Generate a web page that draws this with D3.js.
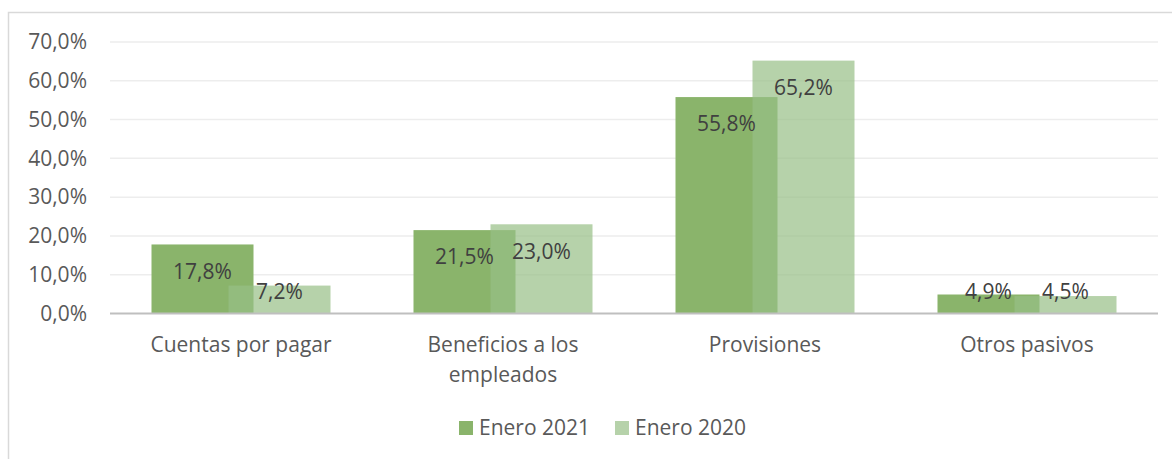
<!DOCTYPE html>
<html>
<head>
<meta charset="utf-8">
<script src="https://cdn.jsdelivr.net/npm/d3@7"></script>
<style>
  body { margin: 0; background: #fff; }
  svg text { font-family: "Open Sans", sans-serif; }
</style>
</head>
<body>
<div id="chart"></div>
<script>
// data
var categories = ["Cuentas por pagar", "Beneficios a los empleados", "Provisiones", "Otros pasivos"];
var series = ["Enero 2021", "Enero 2020"];
var values2021 = [17.8, 21.5, 55.8, 4.9];
var values2020 = [7.2, 23.0, 65.2, 4.5];
var yTicks = [0, 10, 20, 30, 40, 50, 60, 70];

var width = 1172, height = 459;
var plotLeft = 110, plotRight = 1158, plotTop = 42, plotBottom = 313.5;
var fontSize = 21;

var svg = d3.select("#chart").append("svg")
    .attr("width", width)
    .attr("height", height);

// chart frame
svg.append("rect")
    .attr("x", 8.5).attr("y", 12.5)
    .attr("width", 1180).attr("height", 470)
    .attr("fill", "none")
    .attr("stroke", "#d9d9d9")
    .attr("stroke-width", 1.5);

var x = d3.scaleBand().domain(categories).range([plotLeft, plotRight]);
var y = d3.scaleLinear().domain([0, 70]).range([plotBottom, plotTop]);

var fmt = function(v) { return d3.format(".1f")(v).replace(".", ",") + "%"; };

// gridlines
svg.append("g")
    .selectAll("line")
    .data(yTicks.slice(1))
    .enter()
    .append("line")
    .attr("x1", plotLeft).attr("x2", plotRight)
    .attr("y1", function(d) { return y(d); })
    .attr("y2", function(d) { return y(d); })
    .attr("stroke", "#ededed")
    .attr("stroke-width", 1.5);

// y axis labels
svg.append("g")
    .selectAll("text")
    .data(yTicks)
    .enter()
    .append("text")
    .attr("x", 87)
    .attr("y", function(d) { return y(d); })
    .attr("dy", "0.35em")
    .attr("text-anchor", "end")
    .attr("font-size", fontSize)
    .attr("fill", "#595959")
    .text(fmt);

var barW = 102, step = 77;
var rows = categories.map(function(c, i) {
    return { cat: c, v21: values2021[i], v20: values2020[i] };
});
var cx = function(d) { return x(d.cat) + x.bandwidth() / 2; };

// Enero 2021 bars
svg.append("g")
    .selectAll("rect")
    .data(rows)
    .enter()
    .append("rect")
    .attr("x", function(d) { return cx(d) - (barW + step) / 2; })
    .attr("y", function(d) { return y(d.v21); })
    .attr("width", barW)
    .attr("height", function(d) { return y(0) - y(d.v21); })
    .attr("fill", "#8ab46b");

// Enero 2020 bars (semi transparent, overlapping)
svg.append("g")
    .selectAll("rect")
    .data(rows)
    .enter()
    .append("rect")
    .attr("x", function(d) { return cx(d) - (barW + step) / 2 + step; })
    .attr("y", function(d) { return y(d.v20); })
    .attr("width", barW)
    .attr("height", function(d) { return y(0) - y(d.v20); })
    .attr("fill", "#97bf86")
    .attr("fill-opacity", 0.7);

// axis baseline
svg.append("line")
    .attr("x1", plotLeft).attr("x2", plotRight)
    .attr("y1", y(0)).attr("y2", y(0))
    .attr("stroke", "#bfbfbf")
    .attr("stroke-width", 2);

// data labels
function labelY(v) { return Math.min(y(v) + 27, y(0) - 22); }
var lab = svg.append("g")
    .attr("font-size", fontSize)
    .attr("fill", "#404040")
    .attr("text-anchor", "middle");
lab.selectAll("text.l21")
    .data(rows)
    .enter()
    .append("text")
    .attr("x", function(d) { return cx(d) - step / 2; })
    .attr("y", function(d) { return labelY(d.v21); })
    .attr("dy", "0.35em")
    .text(function(d) { return fmt(d.v21); });
lab.selectAll("text.l20")
    .data(rows)
    .enter()
    .append("text")
    .attr("x", function(d) { return cx(d) + step / 2; })
    .attr("y", function(d) { return labelY(d.v20); })
    .attr("dy", "0.35em")
    .text(function(d) { return fmt(d.v20); });

// category labels (wrapped like the original)
var catLines = {
    "Cuentas por pagar": ["Cuentas por pagar"],
    "Beneficios a los empleados": ["Beneficios a los", "empleados"],
    "Provisiones": ["Provisiones"],
    "Otros pasivos": ["Otros pasivos"]
};
svg.append("g")
    .selectAll("text")
    .data(categories)
    .enter()
    .append("text")
    .attr("text-anchor", "middle")
    .attr("font-size", fontSize)
    .attr("fill", "#595959")
    .each(function(c) {
        var t = d3.select(this);
        catLines[c].forEach(function(line, i) {
            t.append("tspan")
                .attr("x", x(c) + x.bandwidth() / 2)
                .attr("y", 345 + i * 30)
                .attr("dy", "0.35em")
                .text(line);
        });
    });

// legend
var legendX = [459, 615];
var legendFill = ["#8ab46b", "#b6d2aa"];
var leg = svg.append("g")
    .selectAll("g")
    .data(series)
    .enter()
    .append("g")
    .attr("transform", function(d, i) { return "translate(" + legendX[i] + ",421)"; });
leg.append("rect")
    .attr("width", 14).attr("height", 14)
    .attr("fill", function(d, i) { return legendFill[i]; });
leg.append("text")
    .attr("x", 20).attr("y", 7)
    .attr("dy", "0.35em")
    .attr("font-size", fontSize)
    .attr("fill", "#595959")
    .text(function(d) { return d; });
</script>
</body>
</html>
